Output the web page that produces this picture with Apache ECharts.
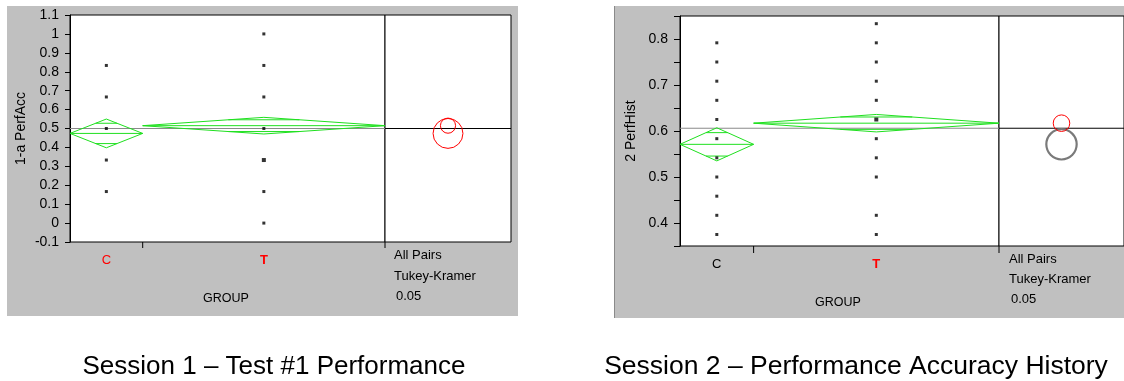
<!DOCTYPE html>
<html><head><meta charset="utf-8">
<script src="https://cdn.jsdelivr.net/npm/echarts@6/dist/echarts.min.js"></script>
<style>html,body{margin:0;padding:0;background:#fff}#c{width:1124px;height:381px}</style>
</head><body><div id="c"></div>
<script>
// ---------------- data ----------------
const groups = ['C', 'T'];
const groupN = [12, 40];                     // group sizes (set the group widths)
// Session 1 : 1-a PerfAcc
const s1C = [0.1667, 0.3333, 0.5, 0.6667, 0.8333];
const s1T = [0, 0.1667, 0.3333, 0.3333, 0.5, 0.6667, 0.8333, 1.0];
const s1Mean = [0.474, 0.515];
const s1CI = [0.076, 0.044];                 // diamond half heights
const s1CircleR = [0.079, 0.040];            // comparison circle radii
const s1Grand = 0.5;
const s1Ticks = { min: -0.1, max: 1.1, interval: 0.1 };
// Session 2 : 2 PerfHist
const s2C = [0.375, 0.4167, 0.4583, 0.5, 0.5417, 0.5833, 0.625, 0.6667, 0.7083, 0.75, 0.7917];
const s2T = [0.375, 0.4167, 0.5, 0.5417, 0.5833, 0.625, 0.625, 0.6667, 0.7083, 0.75, 0.7917, 0.8333];
const s2Mean = [0.571, 0.617];
const s2CI = [0.036, 0.019];
const s2CircleR = [0.033, 0.018];
const s2Grand = 0.606;
const s2Ticks = { min: 0.35, max: 0.85, interval: 0.05 };

// ---------------- styles ----------------
const FONT = '"Liberation Sans", Arial, sans-serif';
const GREEN = '#1fe01f';
const RED = '#ff0000';
const PANEL = '#c0c0c0';

const total = groupN[0] + groupN[1];
const bounds = [0, groupN[0], total];
const centers = [groupN[0] / 2, groupN[0] + groupN[1] / 2];

function fmtNum(v) { return String(Number(v.toFixed(2))); }

function pointsData(cVals, tVals) {
  const out = [];
  [cVals, tVals].forEach((vals, gi) => {
    const cnt = {};
    vals.forEach(v => { cnt[v] = (cnt[v] || 0) + 1; });
    Object.keys(cnt).forEach(k => out.push([centers[gi], Number(k), cnt[k]]));
  });
  return out;
}

function diamondItem(params, api) {
  const x0 = api.value(0), x1 = api.value(1), m = api.value(2), h = api.value(3);
  const xc = (x0 + x1) / 2, q = Math.SQRT1_2, hx = (x1 - x0) / 2, k = (1 - q) * hx;
  const P = (x, y) => api.coord([x, y]);
  const seg = (a, b) => ({ type: 'line', shape: { x1: a[0], y1: a[1], x2: b[0], y2: b[1] },
    style: { stroke: GREEN, lineWidth: 1 } });
  return { type: 'group', children: [
    { type: 'polygon', shape: { points: [P(x0, m), P(xc, m + h), P(x1, m), P(xc, m - h)] },
      style: { stroke: GREEN, fill: 'none', lineWidth: 1 } },
    seg(P(x0, m), P(x1, m)),
    seg(P(xc - k, m + h * q), P(xc + k, m + h * q)),
    seg(P(xc - k, m - h * q), P(xc + k, m - h * q))
  ] };
}

function lineItem(color, xmax) {
  return function (params, api) {
    const g = api.value(0);
    const a = api.coord([0, g]), b = api.coord([xmax, g]);
    return { type: 'line', shape: { x1: a[0], y1: a[1], x2: b[0], y2: b[1] },
      style: { stroke: color, lineWidth: 1 } };
  };
}

function circleItem(params, api) {
  const m = api.value(0), r = api.value(1), col = api.value(2) ? RED : '#7a7a7a';
  const c = api.coord([0.5, m]);
  const rr = Math.abs(api.coord([0.5, m + r])[1] - c[1]);
  return { type: 'circle', shape: { cx: c[0], cy: c[1], r: rr },
    style: { stroke: col, fill: 'none', lineWidth: api.value(2) ? 1 : 2.2 } };
}

function makeSession(idx, cVals, tVals, means, cis, circR, grand, ticks, yName, cColor, circleSel, nameGap, tickLen) {
  const gx = idx * 2, gc = idx * 2 + 1;
  const series = [
    { type: 'custom', xAxisIndex: gx, yAxisIndex: gx, z: 1, silent: true,
      renderItem: lineItem('#8a8a8a', total), data: [[grand]] },
    { type: 'custom', xAxisIndex: gc, yAxisIndex: gc, z: 1, silent: true,
      renderItem: lineItem('#000000', 1), data: [[grand]] },
    { type: 'custom', xAxisIndex: gx, yAxisIndex: gx, z: 2, silent: true,
      renderItem: diamondItem,
      data: [0, 1].map(i => [bounds[i], bounds[i + 1], means[i], cis[i]]) },
    { type: 'scatter', xAxisIndex: gx, yAxisIndex: gx, z: 3, silent: true,
      symbol: 'rect', symbolSize: v => v[2] > 1 ? 4 : 3,
      itemStyle: { color: '#000' }, data: pointsData(cVals, tVals) },
    { type: 'custom', xAxisIndex: gc, yAxisIndex: gc, z: 3, silent: true,
      renderItem: circleItem,
      data: [0, 1].map(i => [means[i], circR[i], circleSel[i]]) },
    // group labels below axis
    { type: 'custom', xAxisIndex: gx, yAxisIndex: gx, z: 3, silent: true, clip: false,
      renderItem: function (params, api) {
        const i = api.value(1);
        const p = api.coord([api.value(0), ticks.min]);
        return { type: 'text', x: p[0], y: p[1] + 18,
          style: { text: groups[i], fill: i === 0 ? cColor : RED,
            font: (i === 1 ? 'bold ' : '') + '13px ' + FONT,
            textAlign: 'center', textVerticalAlign: 'middle' } };
      },
      data: [[centers[0], 0], [centers[1], 1]] },
    // boundary ticks below axis
    { type: 'custom', xAxisIndex: gx, yAxisIndex: gx, z: 3, silent: true, clip: false,
      renderItem: function (params, api) {
        const p = api.coord([api.value(0), ticks.min]);
        return { type: 'line', shape: { x1: p[0], y1: p[1], x2: p[0], y2: p[1] + tickLen + 1 },
          style: { stroke: '#000', lineWidth: 1 } };
      },
      data: [[bounds[1]], [bounds[2]]] }
  ];
  const xAxes = [
    { gridIndex: gx, type: 'value', min: 0, max: total, show: false },
    { gridIndex: gc, type: 'value', min: 0, max: 1, show: false }
  ];
  const yAxes = [
    { gridIndex: gx, type: 'value', min: ticks.min, max: ticks.max, interval: ticks.interval,
      name: yName, nameLocation: 'middle', nameGap: nameGap,
      nameTextStyle: { fontSize: 14, color: '#000', fontFamily: FONT },
      axisLine: { show: true, lineStyle: { color: '#000' } },
      axisTick: { show: true, length: tickLen, lineStyle: { color: '#000' } },
      axisLabel: { fontSize: 14, color: '#000', fontFamily: FONT, margin: tickLen + 6,
        formatter: v => (Math.abs(v * 10 - Math.round(v * 10)) < 1e-6) ? fmtNum(v) : '' },
      splitLine: { show: false } },
    { gridIndex: gc, type: 'value', min: ticks.min, max: ticks.max, show: false, splitLine: { show: false } }
  ];
  return { series, xAxes, yAxes };
}

const S1 = makeSession(0, s1C, s1T, s1Mean, s1CI, s1CircleR, s1Grand, s1Ticks, '1-a PerfAcc', RED, [1, 1], 42, 5);
const S2 = makeSession(1, s2C, s2T, s2Mean, s2CI, s2CircleR, s2Grand, s2Ticks, '2 PerfHist', '#000', [0, 1], 42, 6);

const gridBase = { show: true, backgroundColor: '#ffffff', borderColor: '#000', borderWidth: 1, containLabel: false };

function txt(x, y, s, size, align) {
  return { type: 'text', z: 50, x: x, y: y,
    style: { text: s, fill: '#000', font: size + 'px ' + FONT,
      textAlign: align || 'left', textVerticalAlign: 'middle' } };
}

const option = {
  animation: false,
  backgroundColor: '#ffffff',
  graphic: { elements: [
    { type: 'rect', z: -100, shape: { x: 7, y: 6, width: 511, height: 310 }, style: { fill: PANEL } },
    { type: 'rect', z: -100, shape: { x: 614, y: 6, width: 512, height: 312 }, style: { fill: PANEL } },
    { type: 'line', z: -99, shape: { x1: 614.5, y1: 6, x2: 614.5, y2: 318 }, style: { stroke: '#8a8a8a', lineWidth: 1 } },
    txt(226, 299, 'GROUP', 12.5, 'center'),
    txt(394, 255, 'All Pairs', 13),
    txt(394, 276, 'Tukey-Kramer', 13),
    txt(396, 296, '0.05', 13),
    txt(838, 303, 'GROUP', 12.5, 'center'),
    txt(1009, 259, 'All Pairs', 13),
    txt(1009, 279, 'Tukey-Kramer', 13),
    txt(1011, 299, '0.05', 13),
    txt(274, 367, 'Session 1 \u2013 Test #1 Performance', 26, 'center'),
    txt(856, 367, 'Session 2 \u2013 Performance Accuracy History', 26.5, 'center')
  ] },
  grid: [
    Object.assign({ left: 70, top: 15, width: 315, height: 227 }, gridBase),
    Object.assign({ left: 385, top: 15, width: 126, height: 227 }, gridBase),
    Object.assign({ left: 680, top: 16, width: 319, height: 230 }, gridBase),
    Object.assign({ left: 999, top: 16, width: 126, height: 230 }, gridBase)
  ],
  xAxis: S1.xAxes.concat(S2.xAxes),
  yAxis: S1.yAxes.concat(S2.yAxes),
  series: S1.series.concat(S2.series)
};

const chart = echarts.init(document.getElementById('c'), null, { renderer: 'canvas' });
chart.setOption(option);
</script>
</body></html>
